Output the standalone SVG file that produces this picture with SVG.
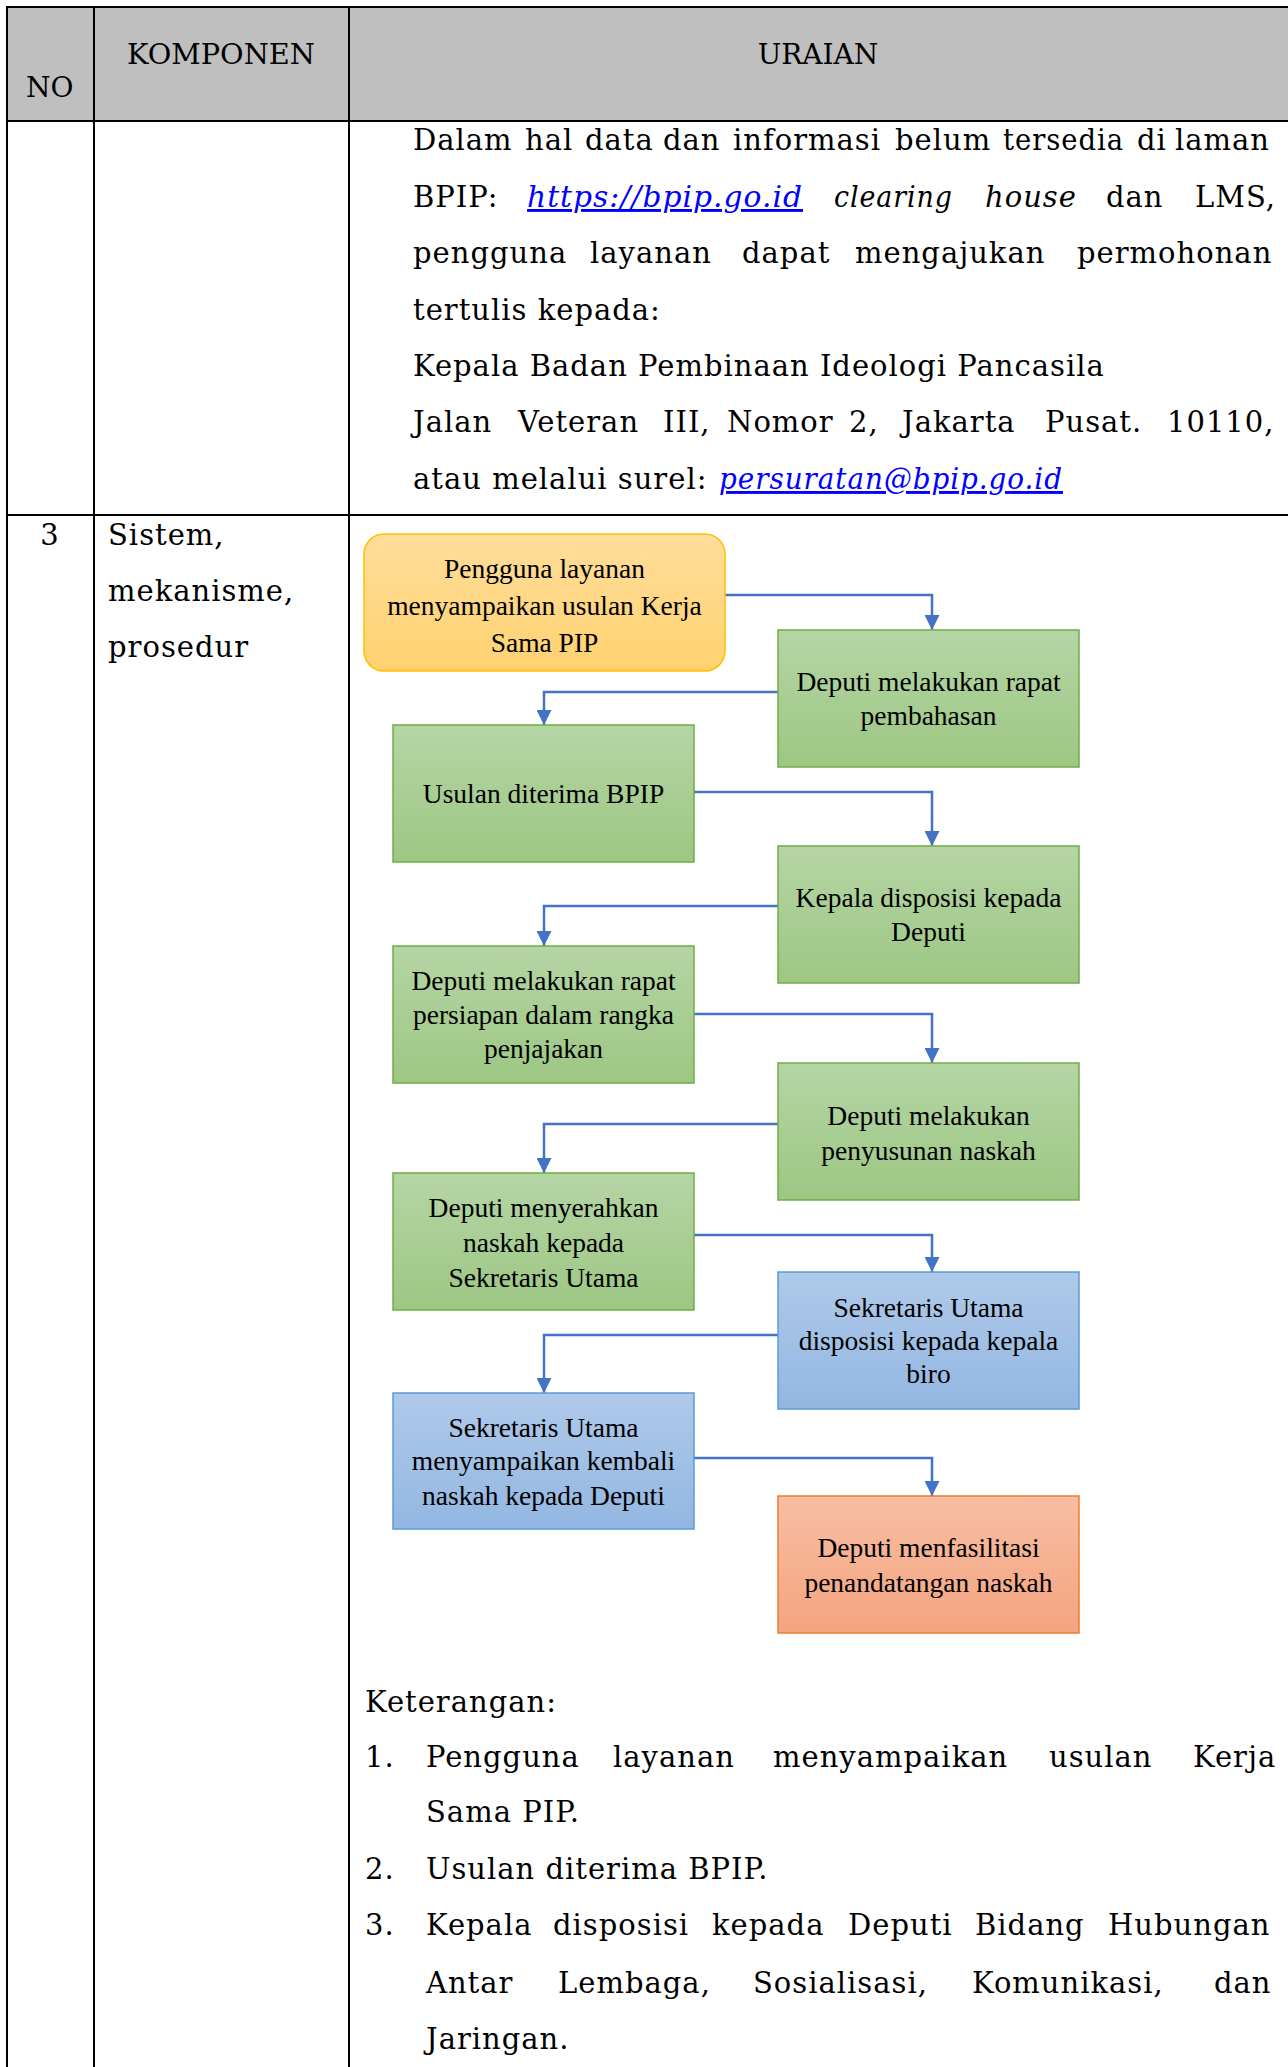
<svg xmlns="http://www.w3.org/2000/svg" width="1288" height="2067" viewBox="0 0 1288 2067">
  <style>
    .t { font-family: "DejaVu Serif", serif; font-size: 29px; letter-spacing: 1px; fill: #000; }
    .h { font-family: "DejaVu Serif", serif; font-size: 28px; fill: #000; }
    .it { font-style: italic; }
    .lnk { font-style: italic; fill: #0000ff; text-decoration: underline; }
    .bx { font-family: "Liberation Serif", "Times New Roman", serif; font-size: 27.5px; fill: #000; text-anchor: middle; }
    .grid { stroke: #000; stroke-width: 2; fill: none; }
    .conn { stroke: #4472c4; stroke-width: 2.5; fill: none; marker-end: url(#arr); }
    .green { fill: url(#gGreen); stroke: #70ad47; stroke-width: 1.5; }
    .blue { fill: url(#gBlue); stroke: #5b9bd5; stroke-width: 1.5; }
    .gold { fill: url(#gGold); stroke: #ffc000; stroke-width: 1.5; }
    .salmon { fill: url(#gSalmon); stroke: #ed7d31; stroke-width: 1.5; }
  </style>
  <defs>
    <linearGradient id="gGreen" x1="0" y1="0" x2="0" y2="1">
      <stop offset="0" stop-color="#b5d5a5"/>
      <stop offset="1" stop-color="#9dc783"/>
    </linearGradient>
    <linearGradient id="gBlue" x1="0" y1="0" x2="0" y2="1">
      <stop offset="0" stop-color="#afc9e9"/>
      <stop offset="1" stop-color="#93b7e2"/>
    </linearGradient>
    <linearGradient id="gGold" x1="0" y1="0" x2="0" y2="1">
      <stop offset="0" stop-color="#ffdd9b"/>
      <stop offset="1" stop-color="#ffd270"/>
    </linearGradient>
    <linearGradient id="gSalmon" x1="0" y1="0" x2="0" y2="1">
      <stop offset="0" stop-color="#f7bea3"/>
      <stop offset="1" stop-color="#f4a47f"/>
    </linearGradient>
    <marker id="arr" markerUnits="userSpaceOnUse" markerWidth="15" markerHeight="15" refX="15" refY="7.5" orient="auto">
      <path d="M0,0 L15,7.5 L0,15 z" fill="#4472c4"/>
    </marker>
  </defs>

  <rect width="1288" height="2067" fill="#fff"/>

  <!-- table header -->
  <rect x="7" y="7" width="1281" height="114" fill="#bfbfbf"/>
  <g id="table-grid" class="grid">
    <line x1="7" y1="7" x2="1288" y2="7"/>
    <line x1="7" y1="121" x2="1288" y2="121"/>
    <line x1="7" y1="515" x2="1288" y2="515"/>
    <line x1="7" y1="6" x2="7" y2="2067"/>
    <line x1="94" y1="6" x2="94" y2="2067"/>
    <line x1="349" y1="6" x2="349" y2="2067"/>
  </g>
  <g id="header" class="h">
    <text x="26" y="97">NO</text>
    <text x="127" y="64" textLength="188" lengthAdjust="spacingAndGlyphs">KOMPONEN</text>
    <text x="818" y="64" text-anchor="middle">URAIAN</text>
  </g>

  <!-- row: contact information -->
  <g id="row-info" class="t">
    <text y="150">
      <tspan x="413">Dalam</tspan><tspan x="525">hal</tspan><tspan x="585">data</tspan><tspan x="663">dan</tspan><tspan x="733">informasi</tspan><tspan x="895">belum</tspan><tspan x="1003" textLength="121" lengthAdjust="spacingAndGlyphs">tersedia</tspan><tspan x="1137">di</tspan><tspan x="1175">laman</tspan>
    </text>
    <text y="207">
      <tspan x="413">BPIP:</tspan><tspan x="527" class="lnk" textLength="276" lengthAdjust="spacingAndGlyphs">https://bpip.go.id</tspan><tspan x="834" class="it" textLength="119" lengthAdjust="spacingAndGlyphs">clearing</tspan><tspan x="985" class="it">house</tspan><tspan x="1106">dan</tspan><tspan x="1195">LMS,</tspan>
    </text>
    <text y="263">
      <tspan x="413">pengguna</tspan><tspan x="590">layanan</tspan><tspan x="742">dapat</tspan><tspan x="855">mengajukan</tspan><tspan x="1077">permohonan</tspan>
    </text>
    <text x="413" y="320">tertulis kepada:</text>
    <text x="413" y="376">Kepala Badan Pembinaan Ideologi Pancasila</text>
    <text y="432">
      <tspan x="413">Jalan</tspan><tspan x="518">Veteran</tspan><tspan x="663">III,</tspan><tspan x="727">Nomor</tspan><tspan x="849">2,</tspan><tspan x="902">Jakarta</tspan><tspan x="1045">Pusat.</tspan><tspan x="1167">10110,</tspan>
    </text>
    <text y="489">
      <tspan x="413">atau melalui surel:</tspan><tspan x="719" class="lnk" textLength="344" lengthAdjust="spacingAndGlyphs">persuratan@bpip.go.id</tspan>
    </text>
  </g>

  <!-- row 3 labels -->
  <g id="row3-labels" class="t">
    <text x="50" y="545" text-anchor="middle">3</text>
    <text x="108" y="545">Sistem,</text>
    <text x="108" y="601">mekanisme,</text>
    <text x="108" y="657">prosedur</text>
  </g>

  <!-- flow connectors -->
  <g id="connectors">
    <path class="conn" d="M725,595 H932 V630"/>
    <path class="conn" d="M778,692 H544 V725"/>
    <path class="conn" d="M694,792 H932 V846"/>
    <path class="conn" d="M778,906 H544 V946"/>
    <path class="conn" d="M694,1014 H932 V1063"/>
    <path class="conn" d="M778,1124 H544 V1173"/>
    <path class="conn" d="M694,1235 H932 V1272"/>
    <path class="conn" d="M778,1335 H544 V1393"/>
    <path class="conn" d="M694,1458 H932 V1496"/>
  </g>

  <!-- flow nodes -->
  <g id="n1">
    <rect class="gold" x="364" y="534" width="361" height="137" rx="20"/>
    <text class="bx"><tspan x="544.5" y="578">Pengguna layanan</tspan><tspan x="544.5" y="615">menyampaikan usulan Kerja</tspan><tspan x="544.5" y="652">Sama PIP</tspan></text>
  </g>
  <g id="n2">
    <rect class="green" x="778" y="630" width="301" height="137"/>
    <text class="bx"><tspan x="928.5" y="691">Deputi melakukan rapat</tspan><tspan x="928.5" y="725">pembahasan</tspan></text>
  </g>
  <g id="n3">
    <rect class="green" x="393" y="725" width="301" height="137"/>
    <text class="bx" x="543.5" y="803">Usulan diterima BPIP</text>
  </g>
  <g id="n4">
    <rect class="green" x="778" y="846" width="301" height="137"/>
    <text class="bx"><tspan x="928.5" y="907">Kepala disposisi kepada</tspan><tspan x="928.5" y="941">Deputi</tspan></text>
  </g>
  <g id="n5">
    <rect class="green" x="393" y="946" width="301" height="137"/>
    <text class="bx"><tspan x="543.5" y="990">Deputi melakukan rapat</tspan><tspan x="543.5" y="1024">persiapan dalam rangka</tspan><tspan x="543.5" y="1058">penjajakan</tspan></text>
  </g>
  <g id="n6">
    <rect class="green" x="778" y="1063" width="301" height="137"/>
    <text class="bx"><tspan x="928.5" y="1125">Deputi melakukan</tspan><tspan x="928.5" y="1160">penyusunan naskah</tspan></text>
  </g>
  <g id="n7">
    <rect class="green" x="393" y="1173" width="301" height="137"/>
    <text class="bx"><tspan x="543.5" y="1217">Deputi menyerahkan</tspan><tspan x="543.5" y="1252">naskah kepada</tspan><tspan x="543.5" y="1287">Sekretaris Utama</tspan></text>
  </g>
  <g id="n8">
    <rect class="blue" x="778" y="1272" width="301" height="137"/>
    <text class="bx"><tspan x="928.5" y="1317">Sekretaris Utama</tspan><tspan x="928.5" y="1350">disposisi kepada kepala</tspan><tspan x="928.5" y="1383">biro</tspan></text>
  </g>
  <g id="n9">
    <rect class="blue" x="393" y="1393" width="301" height="136"/>
    <text class="bx"><tspan x="543.5" y="1437">Sekretaris Utama</tspan><tspan x="543.5" y="1470">menyampaikan kembali</tspan><tspan x="543.5" y="1505">naskah kepada Deputi</tspan></text>
  </g>
  <g id="n10">
    <rect class="salmon" x="778" y="1496" width="301" height="137"/>
    <text class="bx"><tspan x="928.5" y="1557">Deputi menfasilitasi</tspan><tspan x="928.5" y="1592">penandatangan naskah</tspan></text>
  </g>

  <!-- notes under the flow -->
  <g id="notes" class="t">
    <text x="365" y="1712">Keterangan:</text>
    <text x="365" y="1767">1.</text>
    <text y="1767">
      <tspan x="426">Pengguna</tspan><tspan x="613">layanan</tspan><tspan x="773">menyampaikan</tspan><tspan x="1049">usulan</tspan><tspan x="1193">Kerja</tspan>
    </text>
    <text x="426" y="1822">Sama PIP.</text>
    <text x="365" y="1879">2.</text>
    <text x="426" y="1879">Usulan diterima BPIP.</text>
    <text x="365" y="1935">3.</text>
    <text y="1935">
      <tspan x="426">Kepala</tspan><tspan x="553">disposisi</tspan><tspan x="712">kepada</tspan><tspan x="848">Deputi</tspan><tspan x="975">Bidang</tspan><tspan x="1108">Hubungan</tspan>
    </text>
    <text y="1993">
      <tspan x="426">Antar</tspan><tspan x="558">Lembaga,</tspan><tspan x="753">Sosialisasi,</tspan><tspan x="972">Komunikasi,</tspan><tspan x="1214">dan</tspan>
    </text>
    <text x="426" y="2049">Jaringan.</text>
  </g>
</svg>
